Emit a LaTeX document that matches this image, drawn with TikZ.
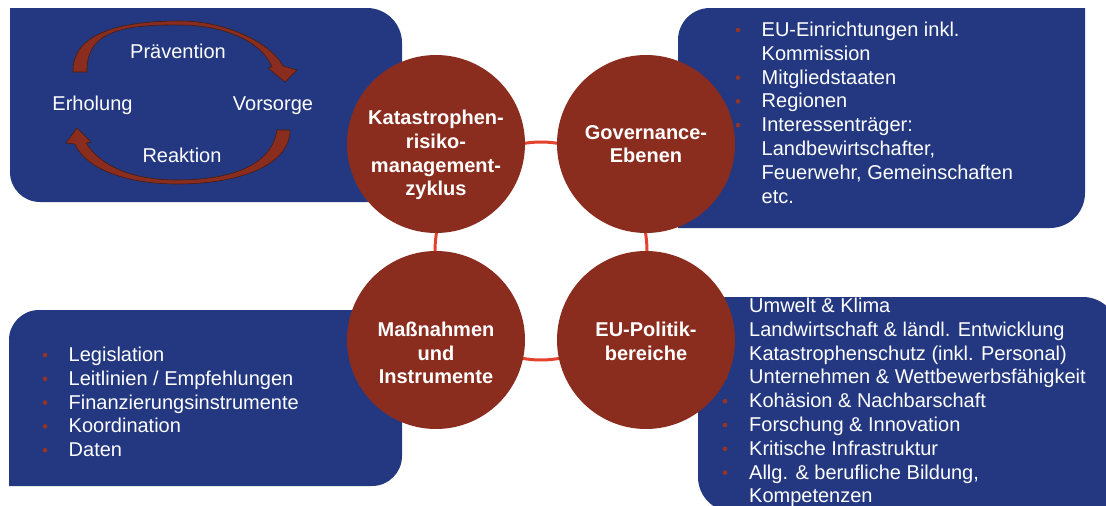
\documentclass[tikz,border=0pt]{standalone}
\usepackage{fontspec}
\setmainfont{Liberation Sans}
\usepackage{tikz}
\usetikzlibrary{shapes.geometric}
\definecolor{boxblue}{RGB}{35,56,128}
\definecolor{discred}{RGB}{139,45,30}
\definecolor{ringred}{RGB}{228,66,44}
\definecolor{dotred}{RGB}{152,52,38}
\definecolor{arrowedge}{RGB}{70,28,18}
\newcommand{\lsk}[0] {23.8}

\tikzset{
  disc/.style={shape=circle,fill=discred,minimum size=178pt,inner sep=0pt},
  disclabel/.style={align=center,text=white,font=\fontsize{20}{23.7}\selectfont\bfseries},
  cyclabel/.style={anchor=base,text=white,font=\fontsize{20}{24}\selectfont},
  listline/.style={anchor=base west,inner sep=0pt,text=white,font=\fontsize{20}{24}\selectfont},
  cyclearrow/.style={fill=discred,draw=arrowedge,line width=0.6pt}
}

\begin{document}
\begin{tikzpicture}[x=1pt,y=-1pt]
        \useasboundingbox (0,0) rectangle (1106,506);

        %blue boxes
        \fill[boxblue] (10,8) -- (367,8) .. controls (386.3,8) and (402,23.7) .. (402,43) -- (402,202)
                -- (40,202) .. controls (23.4,202) and (10,188.6) .. (10,172) -- cycle;
        \fill[boxblue] (710,8) -- (1085,8) -- (1085,193) .. controls (1085,212.3) and (1069.3,228) .. (1050,228)
                -- (678,228) -- (678,40) .. controls (678,22.3) and (692.3,8) .. (710,8) -- cycle;
        \fill[boxblue] (39,310) -- (402,310) -- (402,456) .. controls (402,472.6) and (388.6,486) .. (372,486)
                -- (9,486) -- (9,340) .. controls (9,323.4) and (22.4,310) .. (39,310) -- cycle;
        \fill[boxblue] (698,297) -- (1083,297) .. controls (1102.3,297) and (1118,312.7) .. (1118,332) -- (1118,512)
                -- (733,512) .. controls (713.7,512) and (698,496.3) .. (698,477) -- cycle;

        %cycle arrows
        \filldraw[cyclearrow] (73,72) .. controls (72,40) and (105,21) .. (180,21) .. controls (225,21) and (270,42) .. (283,66)
                -- (297,70) -- (285,82) -- (268,68) -- (272,67) .. controls (262,42) and (225,25) .. (180,25)
                .. controls (115,24) and (86,35) .. (87,72) -- cycle;
        \filldraw[cyclearrow] (290,130) .. controls (290,165) and (240,184) .. (177,184) .. controls (125,184) and (85,168) .. (75,144)
                -- (66,143) -- (77,128) -- (91,142) -- (86,143) .. controls (100,165) and (130,180) .. (177,180)
                .. controls (232,180) and (272,165) .. (277,130) -- cycle;

        \node[cyclabel] (praev) at (178,58)  {Prävention};
        \node[cyclabel] (erhol) at (92.5,110) {Erholung};
        \node[cyclabel] (vors)  at (273,110) {Vorsorge};
        \node[cyclabel] (reakt) at (182,162) {Reaktion};

        %lists
        \foreach \txt/\bul [count=\i] in {EU-Einrichtungen inkl./1, Kommission/0, Mitgliedstaaten/1, Regionen/1,
                Interessenträger:/1, {Landbewirtschafter,}/0, {Feuerwehr, Gemeinschaften}/0, etc./0}
        {
                \node[listline] (govline\i) at (761.5,{36.5+(\i-1)*\lsk}) {\txt};
                \ifnum\bul=1 \fill[dotred] (738,{30+(\i-1)*\lsk}) circle[radius=2.3]; \fi
        }
        \foreach \txt/\bul [count=\i] in {Umwelt \& Klima/1, Landwirtschaft \& ländl. Entwicklung/1,
                Katastrophenschutz (inkl. Personal)/1, Unternehmen \& Wettbewerbsfähigkeit/1,
                Kohäsion \& Nachbarschaft/1, Forschung \& Innovation/1, Kritische Infrastruktur/1,
                {Allg. \& berufliche Bildung,}/1, Kompetenzen/0}
        {
                \node[listline] (polline\i) at (749,{312.5+(\i-1)*\lsk}) {\txt};
                \ifnum\bul=1 \fill[dotred] (725,{306+(\i-1)*\lsk}) circle[radius=2.3]; \fi
        }
        \foreach \txt [count=\i] in {Legislation, Leitlinien / Empfehlungen, Finanzierungsinstrumente,
                Koordination, Daten}
        {
                \node[listline] (massline\i) at (68.5,{361.5+(\i-1)*\lsk}) {\txt};
                \fill[dotred] (45,{355+(\i-1)*\lsk}) circle[radius=2.3];
        }

        %ring and discs
        \node[shape=ellipse,draw=ringred,line width=3pt,minimum width=212pt,minimum height=218pt,inner sep=0pt] (ring) at (541,251) {};
        \node[disc] (krm)   at (436,144) {};
        \node[disc] (gov)   at (646,144) {};
        \node[disc] (mass)  at (436,340) {};
        \node[disc] (eupol) at (646,340) {};

        \node[disclabel] (krmtext)   at ([yshift=-11pt]krm.center)  {Katastrophen-\\risiko-\\management-\\zyklus};
        \node[disclabel] (govtext)   at (gov.center)                {Governance-\\Ebenen};
        \node[disclabel] (masstext)  at ([yshift=-13pt]mass.center) {Maßnahmen\\und\\Instrumente};
        \node[disclabel] (eupoltext) at ([yshift=-1pt]eupol.center) {EU-Politik-\\bereiche};
\end{tikzpicture}
\end{document}
